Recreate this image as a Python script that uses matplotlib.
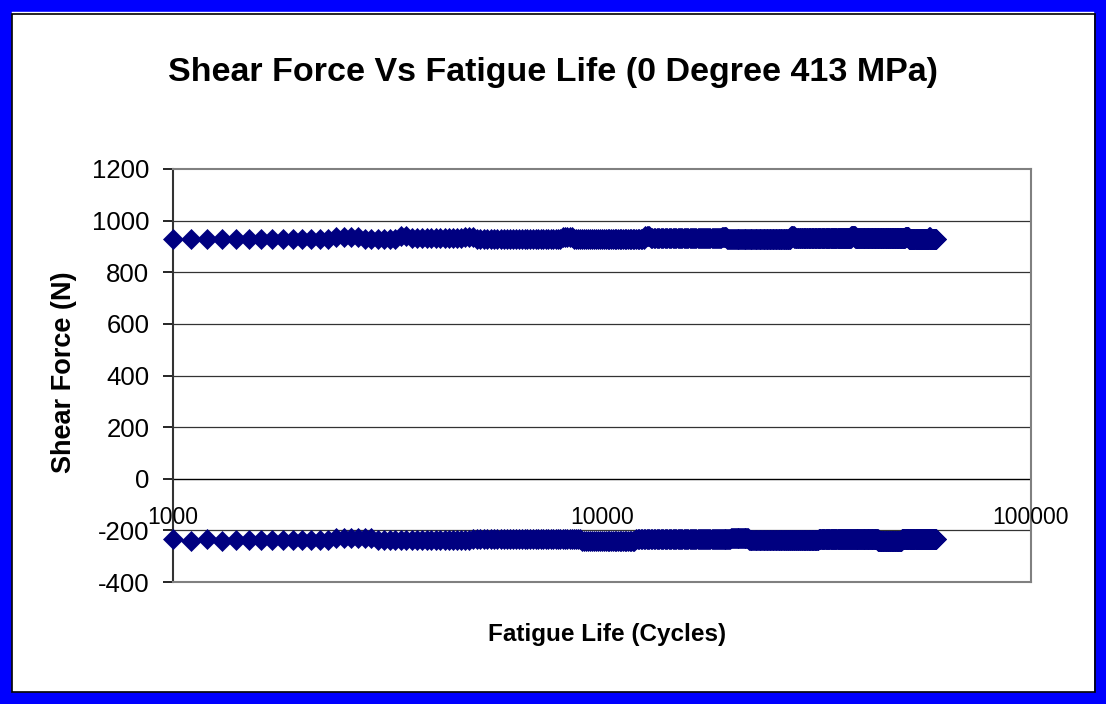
import matplotlib
matplotlib.use("Agg")
import matplotlib.pyplot as plt
from matplotlib.patches import Rectangle

# ---- data ----
cycles = list(range(1000, 60001, 100))  # sampled every 100 cycles

# run-length lists (value, count)
top_runs = [(930, 14), (935, 4), (930, 6), (940, 2), (932, 12), (938, 3), (930, 30),
            (936, 5), (930, 40), (940, 4), (932, 60), (938, 6), (930, 80), (940, 5),
            (933, 100), (940, 8), (932, 120), (938, 10), (930, 60), (936, 2), (930, 20)]
bottom_runs = [(-232, 1), (-240, 1), (-232, 1), (-240, 1), (-236, 10), (-230, 6),
               (-238, 20), (-232, 40), (-240, 30), (-234, 80), (-228, 20), (-238, 100),
               (-232, 120), (-240, 60), (-234, 101)]

top_force = [v for v, n in top_runs for _ in range(n)]
bottom_force = [v for v, n in bottom_runs for _ in range(n)]

y_ticks = [-400, -200, 0, 200, 400, 600, 800, 1000, 1200]
x_tick_values = [1000, 10000, 100000]
x_tick_labels = ["1000", "10000", "100000"]

title = "Shear Force Vs Fatigue Life (0 Degree 413 MPa)"
xlabel = "Fatigue Life (Cycles)"
ylabel = "Shear Force (N)"

plt.rcParams['font.family'] = ['Liberation Sans', 'DejaVu Sans']

fig = plt.figure(figsize=(11.06, 7.04), dpi=100)
fig.patch.set_facecolor('white')

# blue frame around the figure
W, H = 1106, 704
fig.add_artist(Rectangle((0, 0), 1, 1, transform=fig.transFigure,
                         facecolor='none', edgecolor='#0000FF', linewidth=17))
fig.add_artist(Rectangle((12 / W, 12 / H), 1 - 23 / W, 1 - 26 / H, transform=fig.transFigure,
                         facecolor='none', edgecolor='black', linewidth=1.2))

ax = fig.add_axes([173 / W, 1 - 582 / H, (1031 - 173) / W, (582 - 169) / H])
ax.set_xscale('log')
ax.set_xlim(1000, 100000)
ax.set_ylim(-400, 1200)

color = '#000080'
ax.plot(cycles, top_force, linestyle='none', marker='D', markersize=10.5,
        color=color, markeredgecolor=color, markeredgewidth=0.5, clip_on=False, zorder=3)
ax.plot(cycles, bottom_force, linestyle='none', marker='D', markersize=10.5,
        color=color, markeredgecolor=color, markeredgewidth=0.5, clip_on=False, zorder=3)

# gridlines
for yv in y_ticks[1:-1]:
    ax.axhline(yv, color='black' if yv == 0 else '#333333', linewidth=1.0 if yv == 0 else 0.9, zorder=1)

ax.set_yticks(y_ticks)
ax.set_yticklabels([str(v) for v in y_ticks], fontsize=18.5)
ax.tick_params(axis='y', direction='out', length=7, width=1.2, pad=10)
ax.set_xticks([])
ax.xaxis.set_minor_locator(matplotlib.ticker.NullLocator())
ax.tick_params(axis='x', which='both', length=0, labelbottom=False)

for xv, lab in zip(x_tick_values, x_tick_labels):
    ax.text(xv, -150, lab, ha='center', va='center', fontsize=16.5, zorder=4)

for side in ['top', 'right', 'bottom']:
    ax.spines[side].set_color('#808080')
    ax.spines[side].set_linewidth(1.5)
ax.spines['left'].set_color('#333333')
ax.spines['left'].set_linewidth(1.5)

fig.text(553 / W, 1 - 73 / H, title, ha='center', va='center', fontsize=24.5, fontweight='bold')
fig.text(607 / W, 1 - 634 / H, xlabel, ha='center', va='center', fontsize=17.5, fontweight='bold')
fig.text(64 / W, 1 - 372 / H, ylabel, ha='center', va='center', fontsize=19.5,
         fontweight='bold', rotation=90)

fig.savefig('out.png', dpi=100)
